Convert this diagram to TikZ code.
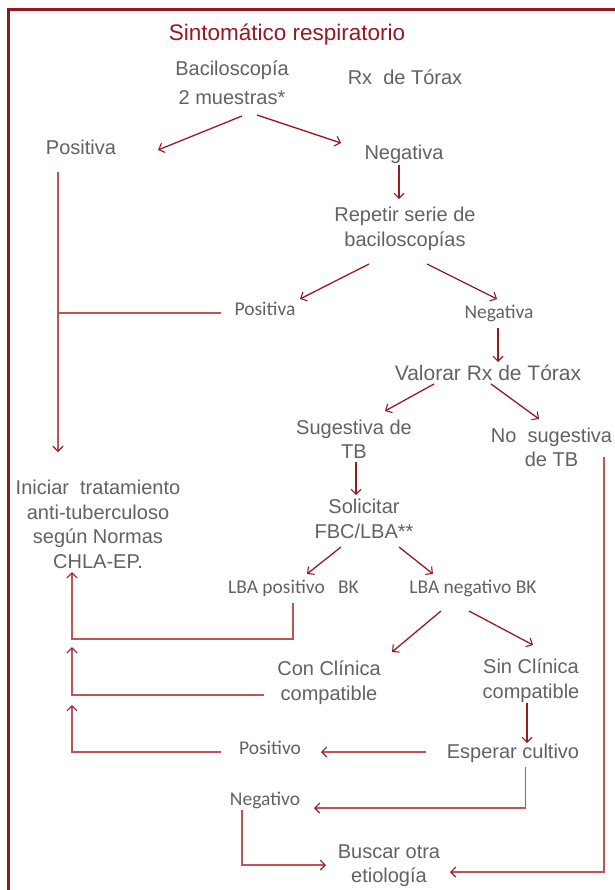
\documentclass[tikz,border=0pt]{standalone}
\usepackage{fontspec}
\setmainfont{Liberation Sans}
\newfontfamily\calib{Carlito}
\usetikzlibrary{arrows.meta}
\definecolor{deepred}{RGB}{150,28,36}
\definecolor{softred}{RGB}{190,84,88}
\definecolor{txtgray}{RGB}{98,98,98}
\definecolor{titlered}{RGB}{150,24,32}
\tikzset{
  x=1pt, y=-1pt,
  every node/.style={inner sep=0pt, align=center, text=txtgray},
  big/.style={font=\fontsize{20}{24.5}\selectfont},
  small/.style={font=\calib\fontsize{19.5}{23}\selectfont},
  link/.style={draw=deepred, line width=1.3pt, -{Straight Barb[length=5pt,width=10pt,line width=1.1pt]}},
  softlink/.style={draw=softred, line width=1.4pt, -{Straight Barb[length=5pt,width=10pt,line width=1.1pt,color=deepred]}},
  softline/.style={draw=softred, line width=1.4pt},
}
\begin{document}
\begin{tikzpicture}
\useasboundingbox[fill=white] (0,0) rectangle (614,890);
% frame
\draw[titlered, line width=2.6pt] (8.5,900) -- (8.5,9.5) -- (630,9.5);

% nodes
\node[font=\fontsize{22.5}{27}\selectfont, text=titlered] (title) at (287,35) {Sintomático respiratorio};
\node[font=\fontsize{20}{29}\selectfont] (bac) at (232,82.5) {Baciloscopía\\2 muestras*};
\node[big] (rx) at (405,77) {Rx~~de Tórax};
\node[big] (pos1) at (81,147) {Positiva};
\node[big] (neg1) at (404,154) {Negativa};
\node[big] (rep) at (405,229) {Repetir serie de\\baciloscopías};
\node[small] (pos2) at (265,309) {Positiva};
\node[small] (neg2) at (499,313) {Negativa};
\node[font=\fontsize{21}{25}\selectfont] (val) at (488,373) {Valorar Rx de Tórax};
\node[big] (sug) at (354,439.5) {Sugestiva de\\TB};
\node[big] (nosug) at (551.5,447.5) {No~~sugestiva\\de TB};
\node[big] (ini) at (98,524.5) {Iniciar~~tratamiento\\anti-tuberculoso\\según Normas\\CHLA-EP.};
\node[big] (sol) at (364,519) {Solicitar\\FBC/LBA**};
\node[small] (lbap) at (293.5,588) {LBA positivo~~~BK};
\node[small] (lban) at (473,588) {LBA negativo BK};
\node[font=\fontsize{20}{25}\selectfont] (con) at (329,682.5) {Con Clínica\\compatible};
\node[big] (sin) at (531,680.5) {Sin Clínica\\compatible};
\node[small] (posv) at (270,748) {Positivo};
\node[big] (esp) at (513,753) {Esperar cultivo};
\node[small] (negv) at (265,800) {Negativo};
\node[big] (bus) at (389,865.5) {Buscar otra\\etiología};

% connectors
\draw[link] ([shift={(10,33.5)}]bac.center) -- ([shift={(77,3)}]pos1.center);
\draw[link] ([shift={(25,32.5)}]bac.center) -- ([shift={(-63,-11)}]neg1.center);
\draw[link] ([shift={(-5,11)}]neg1.center) -- ([shift={(-6,-30)}]rep.center);
\draw[softlink] ([shift={(-23,25)}]pos1.center) -- ([shift={(-40,-72.5)}]ini.center);
\draw[softline] ([shift={(-44,4)}]pos2.center) -- ([shift={(-40,-211.5)}]ini.center);
\draw[link] ([shift={(-36,35)}]rep.center) -- ([shift={(35,-10)}]pos2.center);
\draw[link] ([shift={(22,35)}]rep.center) -- ([shift={(-2,-14)}]neg2.center);
\draw[link] ([shift={(-1,15)}]neg2.center) -- ([shift={(10,-11)}]val.center);
\draw[link] ([shift={(-54,11)}]val.center) -- ([shift={(31,-28.5)}]sug.center);
\draw[link] ([shift={(3,11)}]val.center) -- ([shift={(-12.5,-28.5)}]nosug.center);
\draw[link] ([shift={(2,22.5)}]sug.center) -- ([shift={(-8,-24)}]sol.center);
\draw[link] ([shift={(-23,28)}]sol.center) -- ([shift={(13.5,-14)}]lbap.center);
\draw[link] ([shift={(35,28)}]sol.center) -- ([shift={(-40,-14)}]lban.center);
\draw[softlink] ([shift={(-0.5,15)}]lbap.center) -- ++(0,36) -| ([shift={(-26,47.5)}]ini.center);
\draw[link] ([shift={(-32,23)}]lban.center) -- ([shift={(63,-30.5)}]con.center);
\draw[link] ([shift={(-4,23)}]lban.center) -- ([shift={(2,-35.5)}]sin.center);
\draw[softlink] ([shift={(-65.5,12.5)}]con.center) -| ([shift={(-26,122.5)}]ini.center);
\draw[link] ([shift={(-4,22.5)}]sin.center) -- ([shift={(14,-10)}]esp.center);
\draw[softlink] ([shift={(-87,-1)}]esp.center) -- ([shift={(51,4)}]posv.center);
\draw[softlink] ([shift={(-49,4)}]posv.center) -| ([shift={(-26,180.5)}]ini.center);
\draw[softlink] ([shift={(12.5,14)}]esp.center) |- ([shift={(49,8)}]negv.center);
\draw[softlink] ([shift={(-23,10)}]negv.center) |- ([shift={(-63,-0.5)}]bus.center);
\draw[softlink] ([shift={(52.5,9.5)}]nosug.center) |- ([shift={(61,6.5)}]bus.center);
\end{tikzpicture}
\end{document}
